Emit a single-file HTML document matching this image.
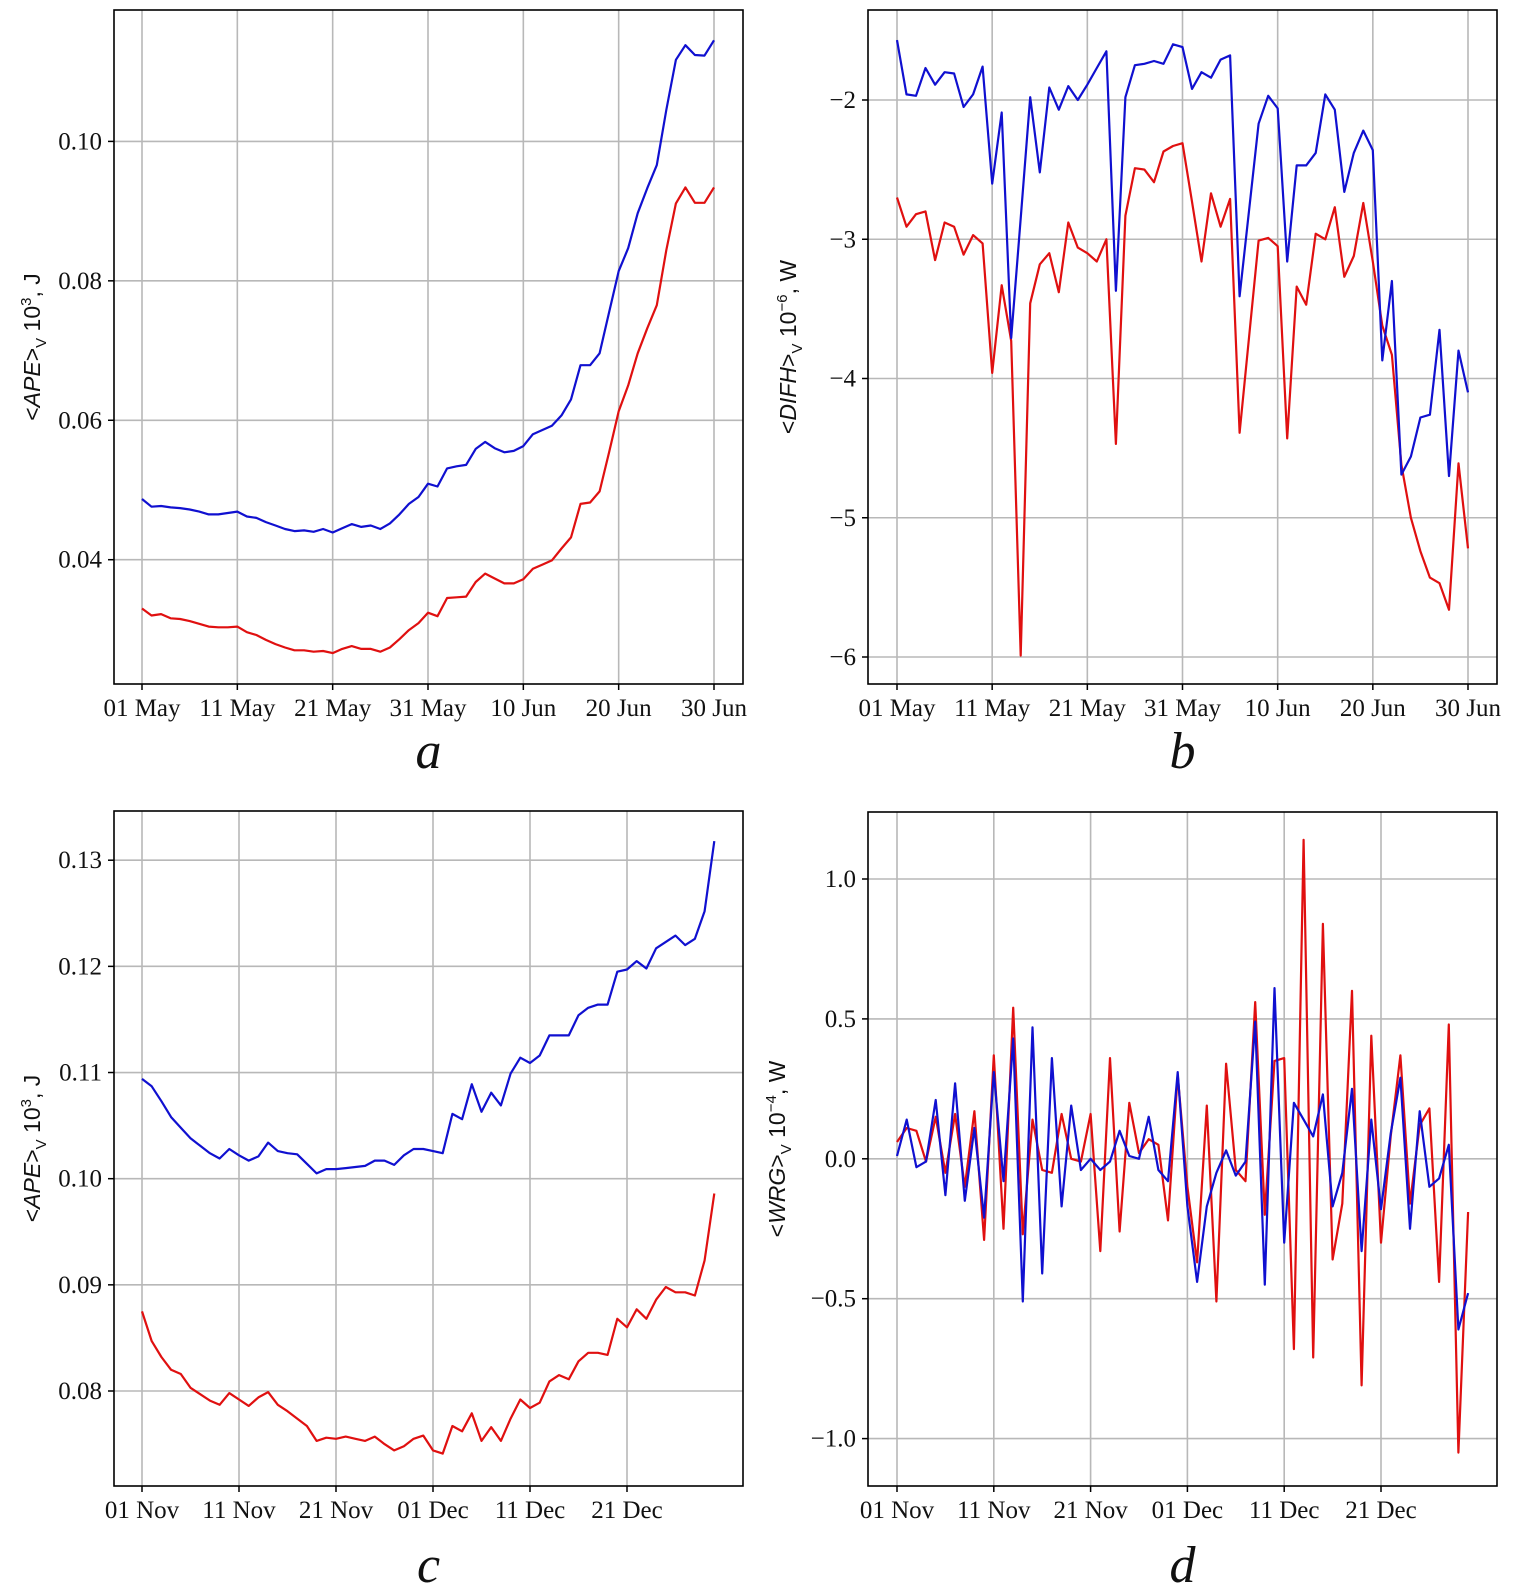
<!DOCTYPE html>
<html><head><meta charset="utf-8"><style>
body{margin:0;background:#fff;}
svg{display:block;font-family:"Liberation Serif",serif;}
</style></head><body>
<svg id="fig" width="1518" height="1591" viewBox="0 0 1518 1591"></svg>
<script>
const aBlue=[0.0487,0.0476,0.0477,0.0475,0.0474,0.0472,0.0469,0.0465,0.0465,0.0467,0.0469,0.0462,0.0460,0.0454,0.0449,0.0444,0.0441,0.0442,0.0440,0.0444,0.0439,0.0445,0.0451,0.0447,0.0449,0.0444,0.0452,0.0465,0.0480,0.0490,0.0509,0.0505,0.0531,0.0534,0.0536,0.0559,0.0569,0.0560,0.0554,0.0556,0.0563,0.0580,0.0586,0.0592,0.0607,0.0630,0.0679,0.0679,0.0696,0.0755,0.0814,0.0847,0.0897,0.0933,0.0966,0.1045,0.1117,0.1138,0.1124,0.1123,0.1145];
const aRed=[0.0330,0.0320,0.0322,0.0316,0.0315,0.0312,0.0308,0.0304,0.0303,0.0303,0.0304,0.0296,0.0292,0.0285,0.0279,0.0274,0.0270,0.0270,0.0268,0.0269,0.0266,0.0272,0.0276,0.0272,0.0272,0.0268,0.0274,0.0286,0.0299,0.0309,0.0324,0.0319,0.0345,0.0346,0.0347,0.0368,0.0380,0.0373,0.0366,0.0366,0.0372,0.0387,0.0393,0.0399,0.0416,0.0432,0.0480,0.0482,0.0498,0.0554,0.0613,0.0650,0.0696,0.0732,0.0765,0.0844,0.0911,0.0934,0.0912,0.0912,0.0934];
const bBlue=[-1.57,-1.96,-1.97,-1.77,-1.89,-1.80,-1.81,-2.05,-1.96,-1.76,-2.60,-2.09,-3.71,-2.85,-1.98,-2.52,-1.91,-2.07,-1.90,-2.00,-1.89,-1.77,-1.65,-3.37,-1.98,-1.75,-1.74,-1.72,-1.74,-1.60,-1.62,-1.92,-1.80,-1.84,-1.71,-1.68,-3.41,-2.79,-2.17,-1.97,-2.06,-3.16,-2.47,-2.47,-2.38,-1.96,-2.07,-2.66,-2.38,-2.22,-2.36,-3.87,-3.30,-4.69,-4.56,-4.28,-4.26,-3.65,-4.70,-3.80,-4.10];
const bRed=[-2.70,-2.91,-2.82,-2.80,-3.15,-2.88,-2.91,-3.11,-2.97,-3.03,-3.96,-3.33,-3.73,-5.99,-3.46,-3.18,-3.10,-3.38,-2.88,-3.06,-3.10,-3.16,-3.00,-4.47,-2.83,-2.49,-2.50,-2.59,-2.37,-2.33,-2.31,-2.73,-3.16,-2.67,-2.91,-2.71,-4.39,-3.70,-3.01,-2.99,-3.05,-4.43,-3.34,-3.47,-2.96,-3.00,-2.77,-3.27,-3.12,-2.74,-3.16,-3.62,-3.83,-4.62,-5.00,-5.24,-5.43,-5.47,-5.66,-4.61,-5.22];
const cBlue=[0.1094,0.1087,0.1073,0.1058,0.1048,0.1038,0.1031,0.1024,0.1019,0.1028,0.1022,0.1017,0.1021,0.1034,0.1026,0.1024,0.1023,0.1014,0.1005,0.1009,0.1009,0.1010,0.1011,0.1012,0.1017,0.1017,0.1013,0.1022,0.1028,0.1028,0.1026,0.1024,0.1061,0.1056,0.1089,0.1063,0.1081,0.1069,0.1099,0.1114,0.1109,0.1116,0.1135,0.1135,0.1135,0.1154,0.1161,0.1164,0.1164,0.1195,0.1197,0.1205,0.1198,0.1217,0.1223,0.1229,0.1220,0.1226,0.1252,0.1318];
const cRed=[0.0875,0.0847,0.0832,0.0820,0.0816,0.0803,0.0797,0.0791,0.0787,0.0798,0.0792,0.0786,0.0794,0.0799,0.0787,0.0781,0.0774,0.0767,0.0753,0.0756,0.0755,0.0757,0.0755,0.0753,0.0757,0.0750,0.0744,0.0748,0.0755,0.0758,0.0744,0.0741,0.0767,0.0762,0.0779,0.0753,0.0766,0.0753,0.0774,0.0792,0.0784,0.0789,0.0809,0.0815,0.0811,0.0828,0.0836,0.0836,0.0834,0.0868,0.0860,0.0877,0.0868,0.0886,0.0898,0.0893,0.0893,0.0890,0.0923,0.0986];
const dBlue=[0.01,0.14,-0.03,-0.01,0.21,-0.13,0.27,-0.15,0.11,-0.21,0.31,-0.08,0.43,-0.51,0.47,-0.41,0.36,-0.17,0.19,-0.04,0.00,-0.04,-0.01,0.10,0.01,0.00,0.15,-0.04,-0.08,0.31,-0.17,-0.44,-0.17,-0.05,0.03,-0.06,-0.01,0.49,-0.45,0.61,-0.30,0.20,0.14,0.08,0.23,-0.17,-0.05,0.25,-0.33,0.14,-0.18,0.09,0.29,-0.25,0.17,-0.10,-0.07,0.05,-0.61,-0.48];
const dRed=[0.06,0.11,0.10,-0.01,0.15,-0.05,0.16,-0.10,0.17,-0.29,0.37,-0.25,0.54,-0.27,0.14,-0.04,-0.05,0.16,0.00,-0.01,0.16,-0.33,0.36,-0.26,0.20,0.02,0.07,0.05,-0.22,0.30,-0.10,-0.37,0.19,-0.51,0.34,-0.04,-0.08,0.56,-0.20,0.35,0.36,-0.68,1.14,-0.71,0.84,-0.36,-0.16,0.60,-0.81,0.44,-0.30,0.08,0.37,-0.16,0.12,0.18,-0.44,0.48,-1.05,-0.19];
const summerTicks=["01 May","11 May","21 May","31 May","10 Jun","20 Jun","30 Jun"];
const winterTicks=["01 Nov","11 Nov","21 Nov","01 Dec","11 Dec","21 Dec"];
const aYTicks=[0.04,0.06,0.08,0.10];
const bYTicks=[-6,-5,-4,-3,-2];
const cYTicks=[0.08,0.09,0.10,0.11,0.12,0.13];
const dYTicks=[-1.0,-0.5,0.0,0.5,1.0];

const NS="http://www.w3.org/2000/svg";
const svg=document.getElementById('fig');
function mk(tag,attrs,parent){const e=document.createElementNS(NS,tag);for(const k in attrs)e.setAttribute(k,attrs[k]);(parent||svg).appendChild(e);return e;}

function panel(p){
  const g=mk('g',{});
  
  
  const xs=d=>p.x0+(p.x1-p.x0)*d/p.xSpan;
  const ys=v=>p.y0+(p.y1-p.y0)*(v-p.v0)/(p.v1-p.v0);
  p.xTicks.forEach((t,i)=>{
    const x=xs(i*10);
    const l=mk('line',{x1:x,x2:x,y1:p.top,y2:p.bot,stroke:'#b8b8b8','stroke-width':1.6},g);
    
    
    mk('line',{x1:x,x2:x,y1:p.bot,y2:p.bot+6,stroke:'#000','stroke-width':1.5},g);
    const tx=mk('text',{x:x,y:p.bot+32,'font-size':25,'text-anchor':'middle',fill:'#111'},g);
    tx.textContent=t;
    
    
  });
  p.yTicks.forEach(v=>{
    const y=ys(v);
    const l=mk('line',{x1:p.left,x2:p.right,y1:y,y2:y,stroke:'#b8b8b8','stroke-width':1.6},g);
    
    
    mk('line',{x1:p.left-6,x2:p.left,y1:y,y2:y,stroke:'#000','stroke-width':1.5},g);
    const tx=mk('text',{x:p.left-12,y:y+8,'font-size':25,'text-anchor':'end',fill:'#111'},g);
    tx.textContent=p.fmt(v);
    
    
  });
  [[p.red,'#e01010','red-series'],[p.blue,'#1010d0','blue-series']].forEach(([arr,c,n])=>{
    const pts=arr.map((v,i)=>xs(i).toFixed(1)+','+ys(v).toFixed(1)).join(' ');
    const pl=mk('polyline',{points:pts,fill:'none',stroke:c,'stroke-width':2.2,'stroke-linejoin':'round'},g);
    
    
  });
  const fr=mk('rect',{x:p.left,y:p.top,width:p.right-p.left,height:p.bot-p.top,fill:'none',stroke:'#000','stroke-width':1.6},g);
  
  
  const cy=(p.top+p.bot)/2;
  const yt=mk('text',{x:p.titleX,y:cy,'font-size':23,'text-anchor':'middle',transform:`rotate(-90 ${p.titleX} ${cy})`,fill:'#111','font-family':'Liberation Sans, sans-serif'},g);
  yt.innerHTML=p.title;
  
  
  const lt=mk('text',{x:(p.left+p.right)/2,y:p.bot+p.letterDy,'font-size':52,'font-style':'italic','text-anchor':'middle',fill:'#111'},g);
  lt.textContent=p.letter;
  
  
}
const f2=v=>v.toFixed(2), f1=v=>v.toFixed(1).replace('-','\u2212'), f0=v=>String(v).replace('-','\u2212');
panel({name:'panel-a',left:114,right:743,top:10,bot:684,x0:142,x1:714,xSpan:60,y0:141.4,y1:559.7,v0:0.10,v1:0.04,xTicks:summerTicks,yTicks:aYTicks,fmt:f2,red:aRed,blue:aBlue,titleX:40,letter:'a',letterDy:84,
 title:'&lt;<tspan font-style="italic">APE</tspan>&gt;<tspan font-size="15" dy="6">V</tspan><tspan dy="-6"> 10</tspan><tspan font-size="15" dy="-9">3</tspan><tspan dy="9">, J</tspan>'});
panel({name:'panel-b',left:868,right:1497,top:10,bot:684,x0:897,x1:1468,xSpan:60,y0:100,y1:657,v0:-2,v1:-6,xTicks:summerTicks,yTicks:bYTicks,fmt:f0,red:bRed,blue:bBlue,titleX:796,letter:'b',letterDy:84,
 title:'&lt;<tspan font-style="italic">DIFH</tspan>&gt;<tspan font-size="15" dy="6">V</tspan><tspan dy="-6"> 10</tspan><tspan font-size="15" dy="-9">−6</tspan><tspan dy="9">, W</tspan>'});
panel({name:'panel-c',left:114,right:743,top:811,bot:1486,x0:142,x1:627,xSpan:50,y0:860.2,y1:1391,v0:0.13,v1:0.08,xTicks:winterTicks,yTicks:cYTicks,fmt:f2,red:cRed,blue:cBlue,titleX:40,letter:'c',letterDy:96,
 title:'&lt;<tspan font-style="italic">APE</tspan>&gt;<tspan font-size="15" dy="6">V</tspan><tspan dy="-6"> 10</tspan><tspan font-size="15" dy="-9">3</tspan><tspan dy="9">, J</tspan>'});
panel({name:'panel-d',left:868,right:1497,top:812,bot:1486,x0:897,x1:1381,xSpan:50,y0:879,y1:1438.6,v0:1.0,v1:-1.0,xTicks:winterTicks,yTicks:dYTicks,fmt:f1,red:dRed,blue:dBlue,titleX:785,letter:'d',letterDy:96,
 title:'&lt;<tspan font-style="italic">WRG</tspan>&gt;<tspan font-size="15" dy="6">V</tspan><tspan dy="-6"> 10</tspan><tspan font-size="15" dy="-9">−4</tspan><tspan dy="9">, W</tspan>'});
</script>
</body></html>
